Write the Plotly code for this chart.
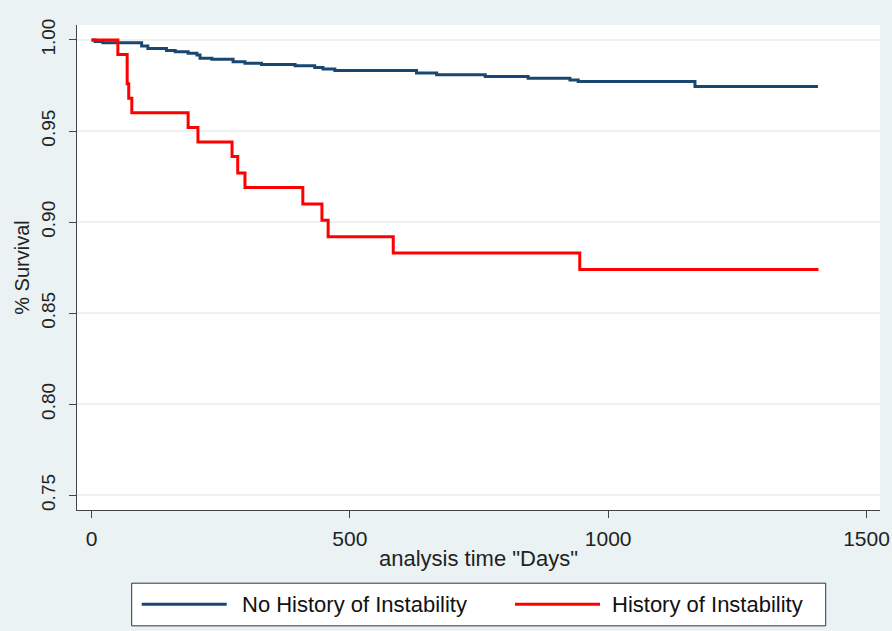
import plotly.graph_objects as go

# ---- data ----
no_hist_days = [0, 7, 22, 97, 109, 145, 162, 187, 204, 210, 233, 274, 297, 329, 394,
                432, 448, 471, 629, 668, 762, 845, 926, 942, 1168, 1406]
no_hist_surv = [1.0, 0.9992, 0.9985, 0.9967, 0.9953, 0.9942, 0.9936, 0.9927, 0.9918,
                0.9900, 0.9894, 0.9881, 0.9872, 0.9866, 0.9858, 0.9849, 0.9840, 0.9832,
                0.9818, 0.9809, 0.9800, 0.9790, 0.9780, 0.9772, 0.9745, 0.9745]

hist_days = [0, 51, 69, 72, 78, 187, 206, 272, 283, 297, 409, 446, 458, 584, 945, 1407]
hist_surv = [1.0, 0.992, 0.976, 0.968, 0.960, 0.952, 0.944, 0.936, 0.927, 0.919,
             0.910, 0.901, 0.892, 0.883, 0.874, 0.874]

series_names = ["No History of Instability", "History of Instability"]
y_ticks = [0.75, 0.80, 0.85, 0.90, 0.95, 1.00]
y_tick_labels = ["0.75", "0.80", "0.85", "0.90", "0.95", "1.00"]
x_ticks = [0, 500, 1000, 1500]
x_tick_labels = ["0", "500", "1000", "1500"]

NAVY = "#1a476f"
RED = "#ff0000"
BG = "#eaf2f3"
FONT = "Liberation Sans, Arial, sans-serif"

fig = go.Figure()
fig.add_trace(go.Scatter(x=no_hist_days, y=no_hist_surv, mode="lines", line_shape="hv",
                         line=dict(color=NAVY, width=3), name=series_names[0], showlegend=False))
fig.add_trace(go.Scatter(x=hist_days, y=hist_surv, mode="lines", line_shape="hv",
                         line=dict(color=RED, width=3), name=series_names[1], showlegend=False))

fig.update_layout(
    width=892, height=631,
    margin=dict(l=77, r=12, t=25, b=121, autoexpand=False),
    paper_bgcolor=BG, plot_bgcolor="white",
    font=dict(family=FONT, size=20, color="#222"),
)
fig.update_xaxes(
    range=[-28.1, 1526.1], tickvals=x_ticks, ticktext=x_tick_labels,
    showgrid=False, zeroline=False, showline=True, linecolor="#444", linewidth=1,
    ticks="outside", ticklen=7, tickcolor="#444", tickfont=dict(size=21),
    ticklabelstandoff=3,
    title=dict(text='analysis time "Days"', font=dict(size=22), standoff=1),
)
fig.update_yaxes(
    range=[0.74194, 1.00822], tickvals=y_ticks, ticktext=y_tick_labels,
    showgrid=True, gridcolor=BG, gridwidth=1.5, zeroline=False,
    showline=True, linecolor="#444", linewidth=1,
    ticks="outside", ticklen=7, tickcolor="#444", tickangle=-90, tickfont=dict(size=19),
    ticklabelstandoff=6,
    title=dict(text="% Survival", font=dict(size=20), standoff=3),
)

# manual legend (Stata-style boxed legend below the plot)
def py(p):
    return (510.7 - p) / 485.7

def px(p):
    return (p - 77) / 803

fig.add_shape(type="rect", xref="paper", yref="paper",
              x0=px(131.7), x1=px(825.7), y0=py(626.7), y1=py(584),
              line=dict(color="#333", width=1), fillcolor="white", layer="above")
legend_y = py(605)
for name, color, lx0, lx1, tx in [
    (series_names[0], NAVY, 141.7, 226.7, 240),
    (series_names[1], RED, 515, 600, 610),
]:
    fig.add_shape(type="line", xref="paper", yref="paper",
                  x0=px(lx0), x1=px(lx1), y0=legend_y, y1=legend_y,
                  line=dict(color=color, width=3), layer="above")
    fig.add_annotation(xref="paper", yref="paper", x=px(tx), y=legend_y,
                       text=name, showarrow=False, xanchor="left", yanchor="middle",
                       font=dict(family=FONT, size=22, color="#111"))

fig.write_html("out.html", config={"displayModeBar": False},
               post_script="document.body.style.margin='0px';")
